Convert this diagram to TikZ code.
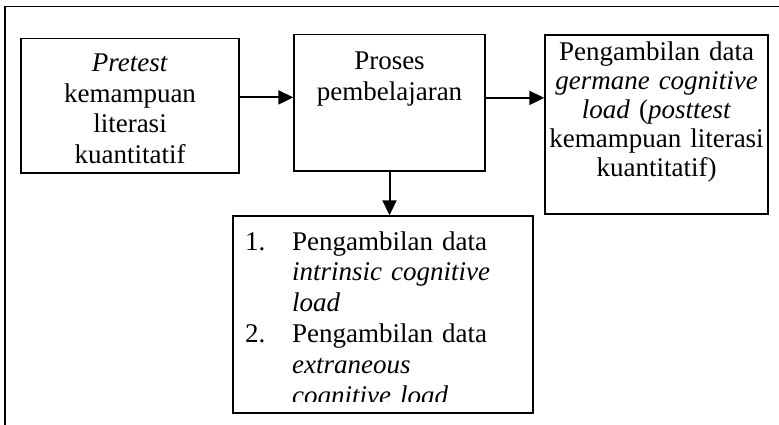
\documentclass[tikz,border=0pt]{standalone}
\usepackage{fontspec}
\setmainfont{Liberation Serif}
\usetikzlibrary{arrows.meta}
\begin{document}
\begin{tikzpicture}[x=1pt,y=-1pt,
  box/.style={draw, line width=1.4pt, inner sep=0pt},
  txt/.style={font=\fontsize{27}{30.5}\selectfont, align=center, inner sep=0pt, anchor=base},
  arr/.style={line width=2pt, -{Triangle[length=15pt,width=14pt]}}]
\useasboundingbox (0,0) rectangle (779,425);
% outer frame (cropped)
\draw[line width=1.7pt] (5,440) -- (5,6.5) -- (790,6.5);
% boxes
\node[box, minimum width=218pt, minimum height=134.3pt] (a) at (130,105.9) {};
\node[box, minimum width=191pt, minimum height=136.3pt] (b) at (389.5,102.9) {};
\node[box, minimum width=223pt, minimum height=179pt] (c) at (656.5,124.5) {};
\node[box, minimum width=300pt, minimum height=197pt] (d) at (383,314.5) {};
% texts
\node[txt, text width=210pt] (ta) at (130,72) {\textit{Pretest}\\kemampuan\\literasi\\kuantitatif};
\node[txt, text width=185pt] (tb) at (389.5,70) {Proses\\pembelajaran};
\node[txt, text width=230pt, font=\fontsize{27}{29}\selectfont] (tc) at (656.5,61) {Pengambilan data\\\textit{germane cognitive}\\\textit{load} (\textit{posttest}\\kemampuan literasi\\kuantitatif)};
\begin{scope}
\clip (233,216) rectangle (533,401.5);
\node[txt, text width=280pt, align=left, anchor=base west, font=\fontsize{27}{30.9}\selectfont] (td) at (245,250)
 {\makebox[47pt][l]{1.}Pengambilan data\\
  \hspace*{47pt}\textit{intrinsic cognitive}\\
  \hspace*{47pt}\textit{load}\\
  \makebox[47pt][l]{2.}Pengambilan data\\
  \hspace*{47pt}\textit{extraneous}\\
  \hspace*{47pt}\textit{cognitive load}};
\end{scope}
% arrows
\draw[arr] ([yshift=8.5pt]a.east) -- ([yshift=8.5pt]a.east -| b.west);
\draw[arr] ([yshift=5pt]b.east) -- ([yshift=5pt]b.east -| c.west);
\draw[arr] (b.south) -- (b.south |- d.north);
\end{tikzpicture}
\end{document}
